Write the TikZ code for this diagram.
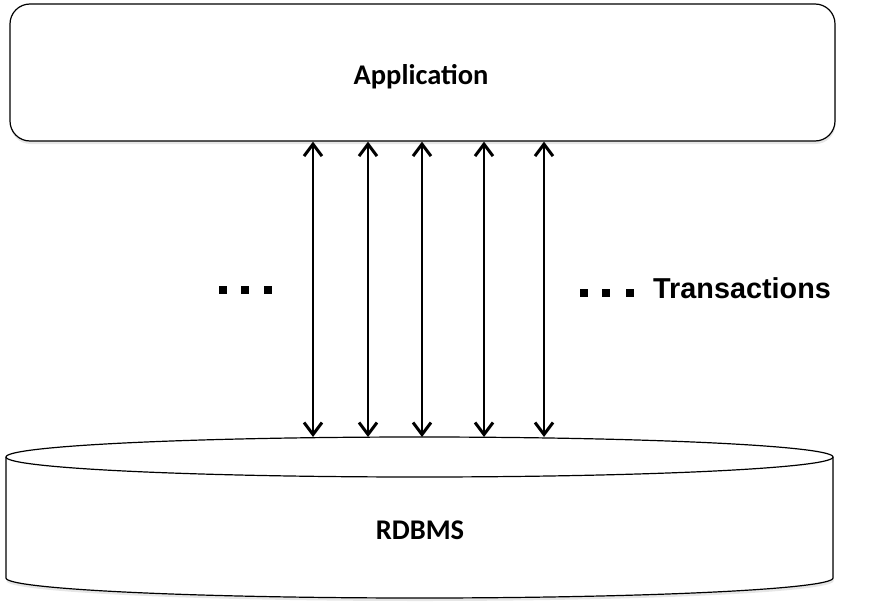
\documentclass[tikz,border=0pt]{standalone}
\usepackage{fontspec}
\newfontfamily\calibri{Carlito}
\newfontfamily\arial{Liberation Sans}
\usetikzlibrary{arrows.meta,shadows}
\tikzset{
  barb/.tip={Straight Barb[length=12pt,width=18pt,line width=3pt]},
  txarrow/.style={barb-barb, line width=1.4pt},
  boxtext/.style={font=\calibri\bfseries\fontsize{28.5}{34}\selectfont},
  softshadow/.style={drop shadow={shadow xshift=0.5pt,shadow yshift=-3pt,opacity=0.2,fill=gray}}
}
\begin{document}
\begin{tikzpicture}[x=1pt,y=-1pt]
\useasboundingbox (0,0) rectangle (882,610);
% application box
\node[draw, line width=1.2pt, rounded corners=20pt, minimum width=825pt, minimum height=137pt, fill=white, softshadow] (app) at (422.5,72.5) {};
\node[boxtext, anchor=base] (applabel) at (421,84) {Application};
% database
\path[fill=white, draw, line width=1.2pt, softshadow] (6,457) -- (6,578)
  arc[start angle=180, end angle=360, x radius=413.5pt, y radius=20pt] -- (833,457)
  arc[start angle=0, end angle=180, x radius=413.5pt, y radius=20pt] -- cycle;
\draw[line width=1.2pt] (6,457) arc[start angle=180, end angle=360, x radius=413.5pt, y radius=20pt];
\coordinate (dbtop) at (419.5,437);
\node[boxtext, anchor=base] (dblabel) at (420,539) {RDBMS};
% transactions
\foreach \x in {313,368,422,484,544}
  \draw[txarrow] (\x,0 |- app.south) -- (\x,0 |- dbtop);
\foreach \x in {222.5,245,267.5} \fill (\x-4,285.5) rectangle +(8,8);
\foreach \x in {584,606,630} \fill (\x-4,288.5) rectangle +(8,8);
\node[font=\arial\bfseries\fontsize{28.8}{33}\selectfont, anchor=base west, inner sep=0pt] (txlabel) at (653,298) {Transactions};
\end{tikzpicture}
\end{document}
